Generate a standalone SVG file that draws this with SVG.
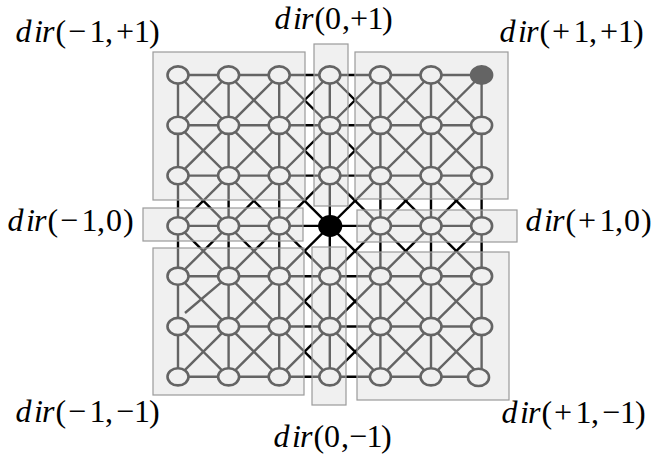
<svg xmlns="http://www.w3.org/2000/svg" width="657" height="455" viewBox="0 0 657 455">
<style>
.e{stroke:#000;stroke-width:2.4;fill:none}
.n{fill:#fff;stroke:#000;stroke-width:2.6}
.f{fill:#000;stroke:#000;stroke-width:2.6}
.r{fill:#dedede;fill-opacity:0.45;stroke:#9a9a9a;stroke-width:1.2}
.t{font-family:"Liberation Serif","Times New Roman",serif;font-size:32px;fill:#000}
.i{font-style:italic}
</style>
<rect width="657" height="455" fill="#fff"/>
<g id="connectors">
<line class="e" x1="178" y1="75" x2="481.6" y2="75"/>
<line class="e" x1="178" y1="125.3" x2="481.6" y2="125.3"/>
<line class="e" x1="178" y1="175.6" x2="481.6" y2="175.6"/>
<line class="e" x1="178" y1="225.9" x2="481.6" y2="225.9"/>
<line class="e" x1="178" y1="276.2" x2="481.6" y2="276.2"/>
<line class="e" x1="178" y1="326.5" x2="481.6" y2="326.5"/>
<line class="e" x1="178" y1="376.8" x2="481.6" y2="376.8"/>
<line class="e" x1="178" y1="75" x2="178" y2="376.8"/>
<line class="e" x1="228.6" y1="75" x2="228.6" y2="376.8"/>
<line class="e" x1="279.2" y1="75" x2="279.2" y2="376.8"/>
<line class="e" x1="329.8" y1="75" x2="329.8" y2="376.8"/>
<line class="e" x1="380.4" y1="75" x2="380.4" y2="376.8"/>
<line class="e" x1="431" y1="75" x2="431" y2="376.8"/>
<line class="e" x1="481.6" y1="75" x2="481.6" y2="376.8"/>
<line class="e" x1="178" y1="75" x2="481.6" y2="376.8"/>
<line class="e" x1="178" y1="125.3" x2="431" y2="376.8"/>
<line class="e" x1="178" y1="175.6" x2="380.4" y2="376.8"/>
<line class="e" x1="178" y1="225.9" x2="329.8" y2="376.8"/>
<line class="e" x1="178" y1="276.2" x2="279.2" y2="376.8"/>
<line class="e" x1="178" y1="326.5" x2="228.6" y2="376.8"/>
<line class="e" x1="228.6" y1="75" x2="481.6" y2="326.5"/>
<line class="e" x1="279.2" y1="75" x2="481.6" y2="276.2"/>
<line class="e" x1="329.8" y1="75" x2="481.6" y2="225.9"/>
<line class="e" x1="380.4" y1="75" x2="481.6" y2="175.6"/>
<line class="e" x1="431" y1="75" x2="481.6" y2="125.3"/>
<line class="e" x1="178" y1="125.3" x2="228.6" y2="75"/>
<line class="e" x1="178" y1="175.6" x2="279.2" y2="75"/>
<line class="e" x1="178" y1="225.9" x2="329.8" y2="75"/>
<line class="e" x1="178" y1="276.2" x2="380.4" y2="75"/>
<line class="e" x1="228.6" y1="276.2" x2="431" y2="75"/>
<line class="e" x1="228.6" y1="276.2" x2="185" y2="313"/>
<line class="e" x1="178" y1="376.8" x2="481.6" y2="75"/>
<line class="e" x1="228.6" y1="376.8" x2="481.6" y2="125.3"/>
<line class="e" x1="279.2" y1="376.8" x2="481.6" y2="175.6"/>
<line class="e" x1="329.8" y1="376.8" x2="481.6" y2="225.9"/>
<line class="e" x1="380.4" y1="376.8" x2="481.6" y2="276.2"/>
<line class="e" x1="431" y1="376.8" x2="481.6" y2="326.5"/>
</g>
<g id="nodes">
<g id="n00"><ellipse class="n" cx="178" cy="75" rx="10.5" ry="8.6"/></g>
<g id="n10"><ellipse class="n" cx="228.6" cy="75" rx="10.5" ry="8.6"/></g>
<g id="n20"><ellipse class="n" cx="279.2" cy="75" rx="10.5" ry="8.6"/></g>
<g id="n30"><ellipse class="n" cx="329.8" cy="75" rx="10.5" ry="8.6"/></g>
<g id="n40"><ellipse class="n" cx="380.4" cy="75" rx="10.5" ry="8.6"/></g>
<g id="n50"><ellipse class="n" cx="431" cy="75" rx="10.5" ry="8.6"/></g>
<g id="n60"><ellipse class="f" cx="481.6" cy="75" rx="10.5" ry="8.6"/></g>
<g id="n01"><ellipse class="n" cx="178" cy="125.3" rx="10.5" ry="8.6"/></g>
<g id="n11"><ellipse class="n" cx="228.6" cy="125.3" rx="10.5" ry="8.6"/></g>
<g id="n21"><ellipse class="n" cx="279.2" cy="125.3" rx="10.5" ry="8.6"/></g>
<g id="n31"><ellipse class="n" cx="329.8" cy="125.3" rx="10.5" ry="8.6"/></g>
<g id="n41"><ellipse class="n" cx="380.4" cy="125.3" rx="10.5" ry="8.6"/></g>
<g id="n51"><ellipse class="n" cx="431" cy="125.3" rx="10.5" ry="8.6"/></g>
<g id="n61"><ellipse class="n" cx="481.6" cy="125.3" rx="10.5" ry="8.6"/></g>
<g id="n02"><ellipse class="n" cx="178" cy="175.6" rx="10.5" ry="8.6"/></g>
<g id="n12"><ellipse class="n" cx="228.6" cy="175.6" rx="10.5" ry="8.6"/></g>
<g id="n22"><ellipse class="n" cx="279.2" cy="175.6" rx="10.5" ry="8.6"/></g>
<g id="n32"><ellipse class="n" cx="329.8" cy="175.6" rx="10.5" ry="8.6"/></g>
<g id="n42"><ellipse class="n" cx="380.4" cy="175.6" rx="10.5" ry="8.6"/></g>
<g id="n52"><ellipse class="n" cx="431" cy="175.6" rx="10.5" ry="8.6"/></g>
<g id="n62"><ellipse class="n" cx="481.6" cy="175.6" rx="10.5" ry="8.6"/></g>
<g id="n03"><ellipse class="n" cx="178" cy="225.9" rx="10.5" ry="8.6"/></g>
<g id="n13"><ellipse class="n" cx="228.6" cy="225.9" rx="10.5" ry="8.6"/></g>
<g id="n23"><ellipse class="n" cx="279.2" cy="225.9" rx="10.5" ry="8.6"/></g>
<g id="n33"><ellipse class="f" cx="330.2" cy="226" rx="10.8" ry="9.6"/></g>
<g id="n43"><ellipse class="n" cx="380.4" cy="225.9" rx="10.5" ry="8.6"/></g>
<g id="n53"><ellipse class="n" cx="431" cy="225.9" rx="10.5" ry="8.6"/></g>
<g id="n63"><ellipse class="n" cx="481.6" cy="225.9" rx="10.5" ry="8.6"/></g>
<g id="n04"><ellipse class="n" cx="178" cy="276.2" rx="10.5" ry="8.6"/></g>
<g id="n14"><ellipse class="n" cx="228.6" cy="276.2" rx="10.5" ry="8.6"/></g>
<g id="n24"><ellipse class="n" cx="279.2" cy="276.2" rx="10.5" ry="8.6"/></g>
<g id="n34"><ellipse class="n" cx="329.8" cy="276.2" rx="10.5" ry="8.6"/></g>
<g id="n44"><ellipse class="n" cx="380.4" cy="276.2" rx="10.5" ry="8.6"/></g>
<g id="n54"><ellipse class="n" cx="431" cy="276.2" rx="10.5" ry="8.6"/></g>
<g id="n64"><ellipse class="n" cx="481.6" cy="276.2" rx="10.5" ry="8.6"/></g>
<g id="n05"><ellipse class="n" cx="178" cy="326.5" rx="10.5" ry="8.6"/></g>
<g id="n15"><ellipse class="n" cx="228.6" cy="326.5" rx="10.5" ry="8.6"/></g>
<g id="n25"><ellipse class="n" cx="279.2" cy="326.5" rx="10.5" ry="8.6"/></g>
<g id="n35"><ellipse class="n" cx="329.8" cy="326.5" rx="10.5" ry="8.6"/></g>
<g id="n45"><ellipse class="n" cx="380.4" cy="326.5" rx="10.5" ry="8.6"/></g>
<g id="n55"><ellipse class="n" cx="431" cy="326.5" rx="10.5" ry="8.6"/></g>
<g id="n65"><ellipse class="n" cx="481.6" cy="326.5" rx="10.5" ry="8.6"/></g>
<g id="n06"><ellipse class="n" cx="178" cy="376.8" rx="10.5" ry="8.6"/></g>
<g id="n16"><ellipse class="n" cx="228.6" cy="376.8" rx="10.5" ry="8.6"/></g>
<g id="n26"><ellipse class="n" cx="279.2" cy="376.8" rx="10.5" ry="8.6"/></g>
<g id="n36"><ellipse class="n" cx="329.8" cy="376.8" rx="10.5" ry="8.6"/></g>
<g id="n46"><ellipse class="n" cx="380.4" cy="376.8" rx="10.5" ry="8.6"/></g>
<g id="n56"><ellipse class="n" cx="431" cy="376.8" rx="10.5" ry="8.6"/></g>
<g id="n66"><ellipse class="n" cx="478.5" cy="377.4" rx="10.5" ry="8.6"/></g>
</g>
<g id="regions">
<g id="region-m1p1"><rect class="r" x="153" y="52" width="152" height="148"/></g>
<g id="region-0p1"><rect class="r" x="314" y="44" width="34" height="162"/></g>
<g id="region-p1p1"><rect class="r" x="355" y="52" width="153" height="147"/></g>
<g id="region-m10"><rect class="r" x="143" y="208" width="160" height="33"/></g>
<g id="region-p10"><rect class="r" x="357" y="210" width="160" height="32"/></g>
<g id="region-m1m1"><rect class="r" x="153" y="248" width="151" height="147"/></g>
<g id="region-0m1"><rect class="r" x="312" y="247" width="34" height="158"/></g>
<g id="region-p1m1"><rect class="r" x="357" y="252" width="152" height="148"/></g>
</g>
<g id="labels">
<text class="t" y="42"><tspan class="i" x="15.5 34 42">dir</tspan><tspan x="55.5 68 89.5 105 116 134 149">(−1,+1)</tspan></text>
<text class="t" y="29"><tspan class="i" x="274.5 293 301">dir</tspan><tspan x="314.5 325 342 350 367.5 382">(0,+1)</tspan></text>
<text class="t" y="42"><tspan class="i" x="499.5 518 526">dir</tspan><tspan x="539.5 552 573.5 589 600 618 633">(+1,+1)</tspan></text>
<text class="t" y="231"><tspan class="i" x="7.5 26 34">dir</tspan><tspan x="47.5 60 81.5 97 106 123">(−1,0)</tspan></text>
<text class="t" y="231"><tspan class="i" x="525.5 544 552">dir</tspan><tspan x="565.5 578 599.5 615 624 641">(+1,0)</tspan></text>
<text class="t" y="422"><tspan class="i" x="15.5 34 42">dir</tspan><tspan x="55.5 68 89.5 105 116 134 149">(−1,−1)</tspan></text>
<text class="t" y="447"><tspan class="i" x="273.5 292 300">dir</tspan><tspan x="313.5 324 341 349 366.5 381">(0,−1)</tspan></text>
<text class="t" y="423"><tspan class="i" x="501.5 520 528">dir</tspan><tspan x="541.5 554 575.5 591 602 620 635">(+1,−1)</tspan></text>
</g>
</svg>
